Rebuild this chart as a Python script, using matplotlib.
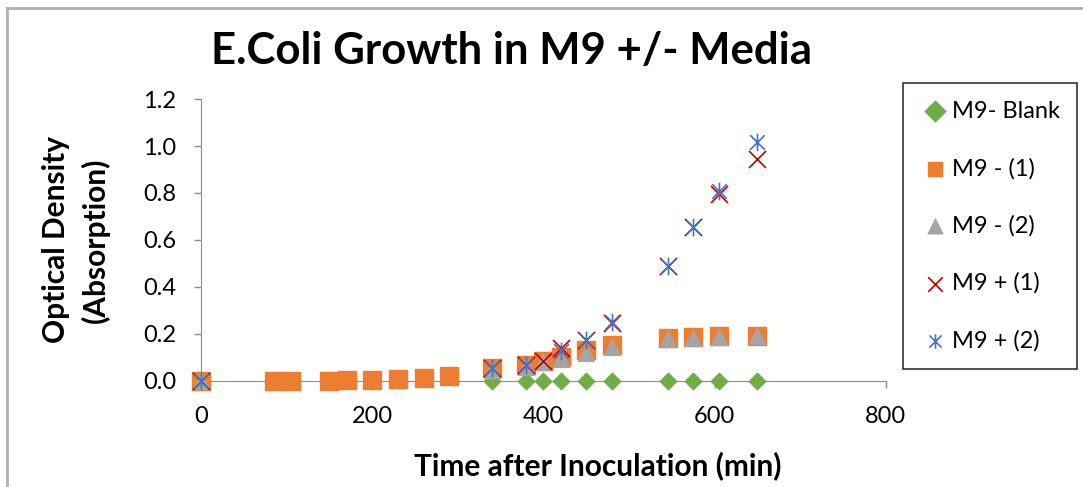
import matplotlib
matplotlib.use("Agg")
import matplotlib.pyplot as plt
from matplotlib.lines import Line2D
from matplotlib.path import Path
import numpy as np

plt.rcParams['font.family'] = ['Lato', 'DejaVu Sans']

# time after inoculation (min)
t_early = [0, 85, 105, 150, 170, 200, 230, 260, 290]
t_late = [340, 380, 400, 420, 450, 480, 545, 575, 605, 650]

blank = [0, 0, 0, 0, 0, 0, 0, 0, 0, 0]
m9_minus_1_early = [0, 0.002, 0.002, 0.002, 0.003, 0.005, 0.008, 0.013, 0.02]
m9_minus_1 = [0.055, 0.068, 0.085, 0.10, 0.13, 0.153, 0.183, 0.187, 0.19, 0.192]
m9_minus_2 = [0.045, 0.06, 0.08, 0.093, 0.12, 0.145, 0.178, 0.183, 0.187, 0.19]
m9_plus_1 = [0.055, 0.068, 0.085, 0.14, 0.175, 0.247, 0.49, 0.655, 0.795, 0.945]
m9_plus_2 = [0.055, 0.07, np.nan, 0.127, 0.175, 0.25, 0.49, 0.657, 0.81, 1.015]

# excel-style star: an x with a vertical bar through it
star = Path([(-1, -1), (1, 1), (-1, 1), (1, -1), (0, -1.2), (0, 1.2)],
            [Path.MOVETO, Path.LINETO, Path.MOVETO, Path.LINETO, Path.MOVETO, Path.LINETO])

fig = plt.figure(figsize=(10.83, 4.87), dpi=100)
ax = fig.add_axes([0.1856, 0.2177, 0.818 - 0.1856, 0.7967 - 0.2177])

ax.scatter([0] + t_late, [0] + blank, marker='D', s=70, color='#70ad47',
           label='M9- Blank', clip_on=False, zorder=3)
ax.scatter(t_early + t_late, m9_minus_1_early + m9_minus_1, marker='s', s=150,
           color='#ed7d31', label='M9 - (1)', clip_on=False, zorder=3)
ax.scatter([0] + t_late, [0] + m9_minus_2, marker='^', s=130, color='#a5a5a5',
           label='M9 - (2)', clip_on=False, zorder=3)
ax.scatter([0] + t_late, [0] + m9_plus_1, marker='x', s=150, color='#c00000',
           linewidths=1.2, label='M9 + (1)', clip_on=False, zorder=3)
ax.scatter([0] + t_late, [0] + m9_plus_2, marker=star, s=160,
           color='#4472c4', linewidths=1.2, label='M9 + (2)', clip_on=False, zorder=3)

ax.set_xlim(0, 800)
ax.set_ylim(0, 1.2)
ax.set_xticks([0, 200, 400, 600, 800])
ax.set_yticks(np.arange(0, 1.21, 0.2))
ax.set_yticklabels(['%.1f' % v for v in np.arange(0, 1.21, 0.2)])
ax.tick_params(labelsize=17, color='#8c8c8c', length=5, width=1)
ax.tick_params(axis='y', pad=13)
ax.tick_params(axis='x', pad=13)
for s in ['top', 'right']:
    ax.spines[s].set_visible(False)
for s in ['left', 'bottom']:
    ax.spines[s].set_color('#8c8c8c')

ax.set_xlabel('Time after Inoculation (min)', fontsize=21.5, fontweight='bold')
ax.xaxis.set_label_coords(0.58, -0.25)
ax.set_ylabel('Optical Density\n(Absorption)', fontsize=21.5, fontweight='bold', labelpad=24,
              linespacing=1.45)
fig.text(0.472, 0.895, 'E.Coli Growth in M9 +/- Media', fontsize=31.5, fontweight='bold',
         ha='center', va='center')

leg = fig.legend(loc='upper left', bbox_to_anchor=(0.834, 0.8296), fontsize=17,
                 labelspacing=1.52, handletextpad=0.1, borderpad=0.75,
                 handlelength=1.2, fancybox=False, edgecolor='black', scatterpoints=1,
                 borderaxespad=0)
leg.get_frame().set_linewidth(1.2)
for h in leg.legend_handles:
    h.set_sizes([110])

# outer chart border
fig.add_artist(Line2D([0.0065, 0.0065], [0, 0.984], transform=fig.transFigure,
                      color='#b0b0b0', lw=2))
fig.add_artist(Line2D([0.0065, 1], [0.984, 0.984], transform=fig.transFigure,
                      color='#b0b0b0', lw=2))

fig.savefig('out.png', dpi=100)
